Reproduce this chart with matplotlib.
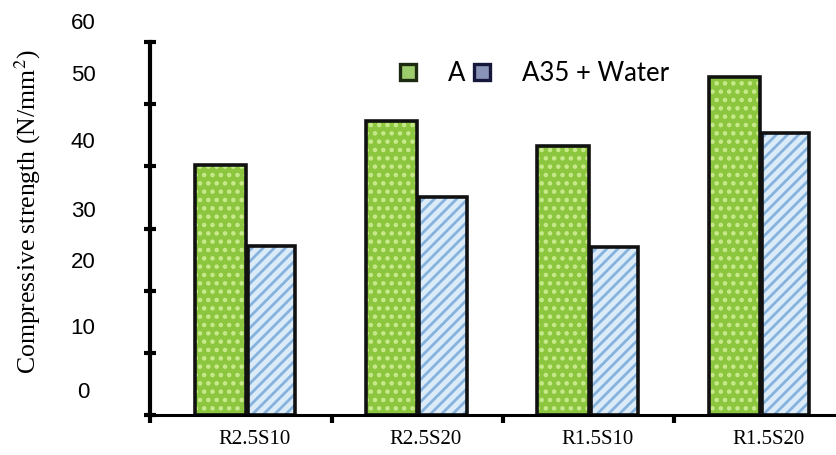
import matplotlib
matplotlib.use("Agg")
import matplotlib.pyplot as plt
from matplotlib.patches import Patch
import numpy as np

# data
categories = ["R2.5S10", "R2.5S20", "R1.5S10", "R1.5S20"]
series_a = [40.2, 47.3, 43.3, 54.4]
series_water = [27.2, 35.1, 27.0, 45.4]
ytick_labels = ["0", "10", "20", "30", "40", "50", "60"]
# where the (shifted) y labels sit, in data units
ylabel_pos = [3.7, 13.9, 24.6, 32.8, 43.8, 54.6, 63.0]

plt.rcParams['hatch.linewidth'] = 2.0

fig = plt.figure(figsize=(8.37, 4.55), dpi=100)
ax = fig.add_axes([0.1792, 0.0879, 0.8208, 0.8198])

x = np.arange(len(categories))
w = 0.3

# fill + hatch layer, then black outline layer
ax.bar(x - w / 2, series_a, w, color="#8cc63f", edgecolor="#c8ea8c", hatch="..", linewidth=0)
ax.bar(x + w / 2, series_water, w * 0.92, color="#dcebf8", edgecolor="#86b3de", hatch="///", linewidth=0)
ax.bar(x - w / 2, series_a, w, fill=False, edgecolor="#111111", linewidth=2.6)
ax.bar(x + w / 2, series_water, w * 0.92, fill=False, edgecolor="#111111", linewidth=2.6)

ax.set_xlim(-0.56, 3.45)
ax.set_ylim(0, 60)

for s in ["top", "right"]:
    ax.spines[s].set_visible(False)
ax.spines["left"].set_linewidth(3)
ax.spines["bottom"].set_linewidth(2.2)

ax.set_yticks(np.arange(0, 61, 10))
ax.set_yticklabels([])
ax.tick_params(axis="y", direction="inout", length=9, width=3)

ax.set_xticks([-0.56, 0.5, 1.5, 2.5])
ax.set_xticklabels([])
ax.tick_params(axis="x", direction="out", length=6, width=3)

for lab, p in zip(ytick_labels, ylabel_pos):
    ax.text(-0.95, p, lab, ha="center", va="center", fontsize=16,
            family="Liberation Sans", clip_on=False)

for i, c in enumerate(categories):
    ax.text(i + 0.05, -4.0, c, ha="center", va="center", fontsize=15,
            family="Liberation Serif", clip_on=False)

fig.text(0.033, 0.535, "Compressive strength (N/mm$^2$)", rotation=90,
         ha="center", va="center", fontsize=18.5, family="Liberation Serif",
         math_fontfamily="stix")

handles = [Patch(facecolor="#9ccc6c", edgecolor="#1c2a12", linewidth=2.4),
           Patch(facecolor="#8a93b8", edgecolor="#15183a", linewidth=2.4)]
ax.legend(handles, ["A", "A35 + Water"], loc="center", bbox_to_anchor=(0.56, 0.915),
          ncol=2, frameon=False, handlelength=0.6, handleheight=0.55,
          handletextpad=1.25, columnspacing=0.35,
          prop={"family": "Lato", "size": 18.5})

fig.savefig("out.png", dpi=100)
